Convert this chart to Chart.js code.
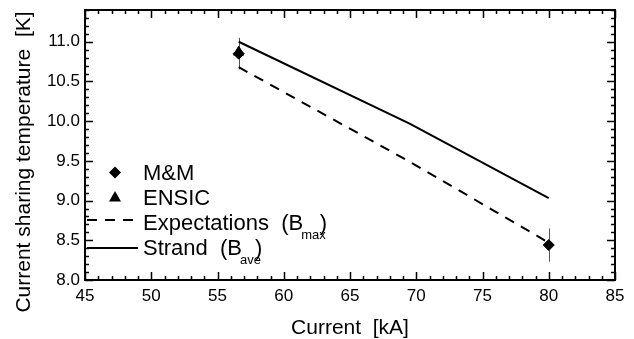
<!DOCTYPE html>
<html>
<head>
<meta charset="utf-8">
<script src="https://cdn.jsdelivr.net/npm/chart.js@4.4.1/dist/chart.umd.min.js"></script>
<style>
  html, body { margin: 0; padding: 0; background: #fff; }
  canvas { display: block; }
</style>
</head>
<body>
<canvas id="chart" width="634" height="339"></canvas>
<script>
// measured points (M&M with error bars, ENSIC)
const currentMM = [56.6, 80];
const tempMM = [10.85, 8.44];
const errMM = [0.2, 0.21];
const currentENSIC = [56.6];
const tempENSIC = [10.87];

// expectation (B max) and strand (B ave) curves
const currentExpect = [56.6, 69.5, 80];
const tempExpect = [10.68, 9.49, 8.47];
const currentStrand = [56.6, 69.5, 80];
const tempStrand = [11.0, 9.97, 9.03];

// axes
const xMin = 45, xMax = 85, xMajor = 5, xMinor = 1;
const yMin = 8.0, yMax = 11.4, yMajor = 0.5, yMinor = 0.1;
const yTitle = 'Current sharing temperature  [K]';

const FONT = '"Liberation Sans", Arial, Helvetica, sans-serif';

function pts(xs, ys) {
    return xs.map(function (x, i) { return {x: x, y: ys[i]}; });
}

// error bars under the M&M markers
const errorBars = {
    id: 'errorBars',
    beforeDatasetsDraw(chart) {
        const ctx = chart.ctx, xs = chart.scales.x, ys = chart.scales.y;
        ctx.save();
        ctx.strokeStyle = '#555';
        ctx.lineWidth = 1;
        for (let i = 0; i < currentMM.length; i++) {
            const px = Math.round(xs.getPixelForValue(currentMM[i])) + 0.5;
            ctx.beginPath();
            ctx.moveTo(px, ys.getPixelForValue(tempMM[i] + errMM[i]));
            ctx.lineTo(px, ys.getPixelForValue(tempMM[i] - errMM[i]));
            ctx.stroke();
        }
        ctx.restore();
    }
};

// box frame with inward ticks on all four sides, plus the y title
const frame = {
    id: 'frame',
    afterDatasetsDraw(chart) {
        const ctx = chart.ctx, a = chart.chartArea;
        const xs = chart.scales.x, ys = chart.scales.y;
        ctx.save();
        ctx.strokeStyle = '#000';
        ctx.lineWidth = 1.5;
        ctx.beginPath();
        for (let v = xMin; v <= xMax + 1e-9; v += xMinor) {
            const major = Math.abs(v / xMajor - Math.round(v / xMajor)) < 1e-6;
            const len = major ? 8 : 4;
            const px = Math.round(xs.getPixelForValue(v)) + 0.5;
            ctx.moveTo(px, a.bottom); ctx.lineTo(px, a.bottom - len);
            ctx.moveTo(px, a.top); ctx.lineTo(px, a.top + len);
        }
        for (let v = yMin; v <= yMax + 1e-9; v += yMinor) {
            const major = Math.abs(v / yMajor - Math.round(v / yMajor)) < 1e-6;
            const len = major ? 8 : 4;
            const py = Math.round(ys.getPixelForValue(v)) + 0.5;
            ctx.moveTo(a.left, py); ctx.lineTo(a.left + len, py);
            ctx.moveTo(a.right, py); ctx.lineTo(a.right - len, py);
        }
        ctx.stroke();
        ctx.lineWidth = 2;
        ctx.strokeRect(a.left, a.top, a.right - a.left, a.bottom - a.top);

        // y title sits a bit lower than the plot centre in the original
        ctx.translate(24, 162);
        ctx.rotate(-Math.PI / 2);
        ctx.fillStyle = '#000';
        ctx.font = '21px ' + FONT;
        ctx.textAlign = 'center';
        ctx.textBaseline = 'middle';
        ctx.fillText(yTitle, 0, 0);
        ctx.restore();
    }
};

// legend with subscripts, inside the plot at lower left
const legendBox = {
    id: 'legendBox',
    afterDraw(chart) {
        const ctx = chart.ctx;
        const tx = 143, sx = 115;
        ctx.save();
        ctx.fillStyle = '#000';
        ctx.strokeStyle = '#000';

        // diamond
        ctx.beginPath();
        ctx.moveTo(sx, 166.5); ctx.lineTo(sx + 6, 172.5);
        ctx.lineTo(sx, 178.5); ctx.lineTo(sx - 6, 172.5);
        ctx.closePath(); ctx.fill();
        // triangle
        ctx.beginPath();
        ctx.moveTo(sx, 191); ctx.lineTo(sx + 6, 201.5); ctx.lineTo(sx - 6, 201.5);
        ctx.closePath(); ctx.fill();
        // dashed and solid samples
        ctx.lineWidth = 2;
        ctx.setLineDash([10, 8]);
        ctx.beginPath(); ctx.moveTo(87, 220); ctx.lineTo(140, 220); ctx.stroke();
        ctx.setLineDash([]);
        ctx.beginPath(); ctx.moveTo(87, 248); ctx.lineTo(138, 248); ctx.stroke();

        ctx.textBaseline = 'alphabetic';
        ctx.font = '22px ' + FONT;
        ctx.fillText('M&M', tx, 180);
        ctx.fillText('ENSIC', tx, 205);

        const withSub = function (main, sub, y) {
            ctx.font = '22px ' + FONT;
            ctx.fillText(main, tx, y);
            const w = ctx.measureText(main).width;
            ctx.font = '13px ' + FONT;
            const sw = ctx.measureText(sub).width;
            ctx.fillText(sub, tx + w - 2, y + 9);
            ctx.font = '22px ' + FONT;
            ctx.fillText(')', tx + w - 2 + sw - 6, y);
        };
        withSub('Expectations  (B', 'max', 229.5);
        withSub('Strand  (B', 'ave', 255);
        ctx.restore();
    }
};

new Chart(document.getElementById('chart'), {
    type: 'scatter',
    data: {
        datasets: [
            {
                label: 'Strand (Bave)',
                data: pts(currentStrand, tempStrand),
                showLine: true,
                borderColor: '#000',
                borderWidth: 2,
                pointRadius: 0,
                tension: 0
            },
            {
                label: 'Expectations (Bmax)',
                data: pts(currentExpect, tempExpect),
                showLine: true,
                borderColor: '#000',
                borderWidth: 2,
                borderDash: [10, 8],
                pointRadius: 0,
                tension: 0
            },
            {
                label: 'M&M',
                data: pts(currentMM, tempMM),
                pointStyle: 'rectRot',
                pointRadius: 5.5,
                pointBackgroundColor: '#000',
                pointBorderColor: '#000',
                pointBorderWidth: 1
            },
            {
                label: 'ENSIC',
                data: pts(currentENSIC, tempENSIC),
                pointStyle: 'triangle',
                pointRadius: 6,
                pointBackgroundColor: '#000',
                pointBorderColor: '#000',
                pointBorderWidth: 1
            }
        ]
    },
    options: {
        responsive: false,
        animation: false,
        devicePixelRatio: 1,
        layout: {padding: {top: 10, right: 19, bottom: 0, left: 0}},
        plugins: {
            legend: {display: false},
            tooltip: {enabled: false}
        },
        scales: {
            x: {
                type: 'linear',
                min: xMin,
                max: xMax,
                grid: {display: false, drawTicks: false},
                border: {display: false},
                ticks: {
                    stepSize: xMajor,
                    color: '#000',
                    padding: 6,
                    maxRotation: 0,
                    font: {family: FONT, size: 17}
                },
                title: {
                    display: true,
                    text: 'Current  [kA]',
                    color: '#000',
                    font: {family: FONT, size: 21, lineHeight: 1},
                    padding: {top: 0, bottom: 0.5}
                },
                afterFit(scale) {
                    scale.height = 59;
                    scale.paddingLeft = 0;
                    scale.paddingRight = 0;
                }
            },
            y: {
                type: 'linear',
                min: yMin,
                max: yMax,
                grid: {display: false, drawTicks: false},
                border: {display: false},
                ticks: {
                    stepSize: yMajor,
                    includeBounds: false,
                    color: '#000',
                    padding: 5,
                    font: {family: FONT, size: 17},
                    callback: function (v) { return Number(v).toFixed(1); }
                },
                afterFit(scale) {
                    scale.width = 85;
                    scale.paddingTop = 0;
                    scale.paddingBottom = 0;
                }
            }
        }
    },
    plugins: [errorBars, frame, legendBox]
});
</script>
</body>
</html>
